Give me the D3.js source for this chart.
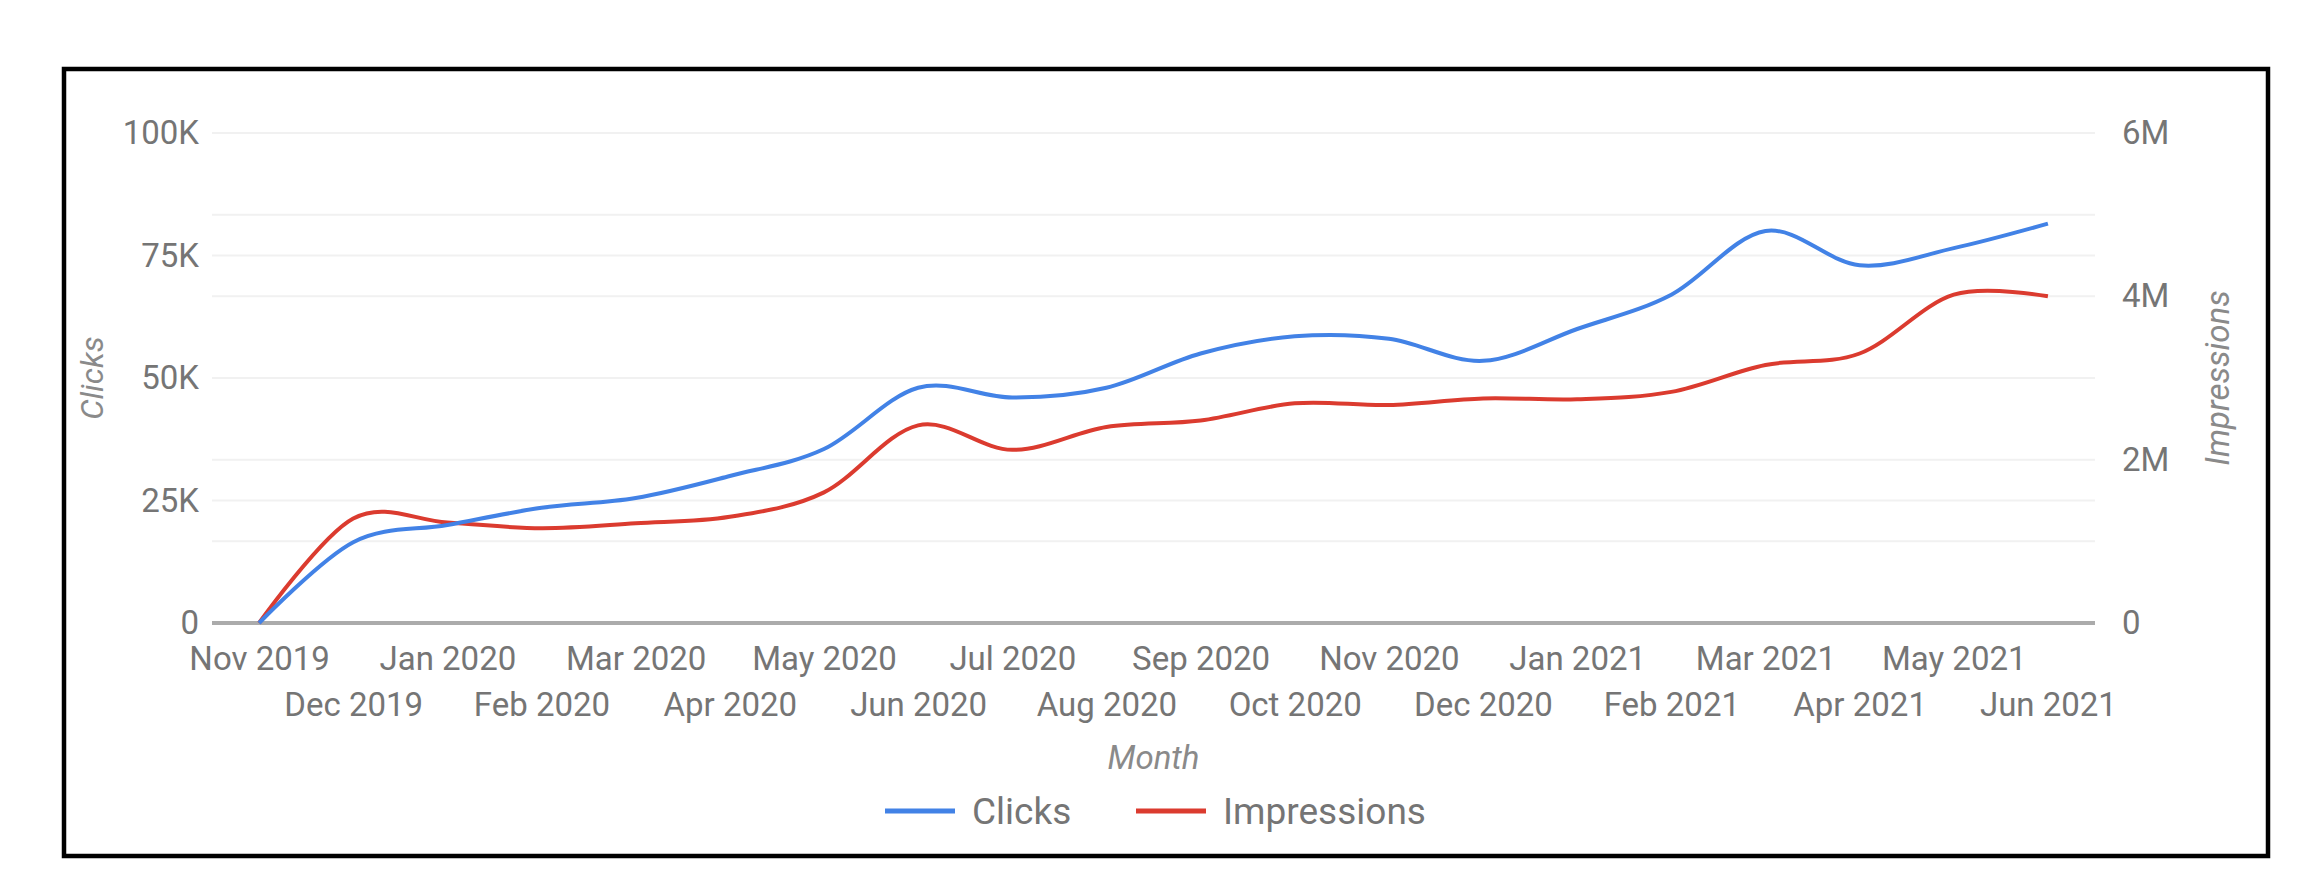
<!DOCTYPE html>
<html>
<head>
<meta charset="utf-8">
<script src="https://cdn.jsdelivr.net/npm/d3@7"></script>
<style>
  html, body { margin: 0; padding: 0; background: #ffffff; }
  svg { display: block; }
  text { font-family: Roboto, "Noto Sans", sans-serif; }
</style>
</head>
<body>
<svg id="chart" width="2320" height="892"></svg>
<script>
// ---- Data ----
const months = ["Nov 2019", "Dec 2019", "Jan 2020", "Feb 2020", "Mar 2020", "Apr 2020", "May 2020",
  "Jun 2020", "Jul 2020", "Aug 2020", "Sep 2020", "Oct 2020", "Nov 2020", "Dec 2020",
  "Jan 2021", "Feb 2021", "Mar 2021", "Apr 2021", "May 2021", "Jun 2021"];
const clicks = [0, 16500, 20000, 23500, 25500, 30000, 35500, 48000, 46000, 48000,
  55000, 58500, 58000, 53500, 60000, 67000, 80000, 73000, 76500, 81500];
const impressions = [0, 1280000, 1230000, 1160000, 1220000, 1300000, 1600000, 2420000, 2120000, 2400000,
  2480000, 2690000, 2670000, 2750000, 2740000, 2830000, 3160000, 3300000, 4020000, 4000000];
const leftTicks = [0, 25000, 50000, 75000, 100000];
const leftTickLabels = ["0", "25K", "50K", "75K", "100K"];
const rightTicks = [0, 2000000, 4000000, 6000000];
const rightTickLabels = ["0", "2M", "4M", "6M"];
const rightGridTicks = [1000000, 2000000, 3000000, 4000000, 5000000, 6000000];
const seriesNames = ["Clicks", "Impressions"];
const seriesColors = ["#4282e6", "#db3b2f"];
const xTitle = "Month";

// ---- Layout ----
const svg = d3.select("#chart");
const plot = { left: 212, right: 2095, top: 133, bottom: 623 };

const x = d3.scalePoint().domain(months).range([plot.left, plot.right]).padding(0.5);
const yL = d3.scaleLinear().domain([0, 100000]).range([plot.bottom, plot.top]);
const yR = d3.scaleLinear().domain([0, 6000000]).range([plot.bottom, plot.top]);

// frame
svg.append("rect")
  .attr("x", 64).attr("y", 69).attr("width", 2204).attr("height", 787)
  .attr("fill", "none").attr("stroke", "#000").attr("stroke-width", 4.5);

// gridlines
const grid = svg.append("g");
grid.selectAll("line.gl").data(leftTicks.slice(1)).join("line")
  .attr("x1", plot.left).attr("x2", plot.right)
  .attr("y1", d => yL(d)).attr("y2", d => yL(d))
  .attr("stroke", "#f1f1f1").attr("stroke-width", 2);
grid.selectAll("line.gr").data(rightGridTicks).join("line")
  .attr("x1", plot.left).attr("x2", plot.right)
  .attr("y1", d => yR(d)).attr("y2", d => yR(d))
  .attr("stroke", "#f1f1f1").attr("stroke-width", 2);

// left axis labels
const gL = svg.append("g").attr("transform", `translate(${plot.left},0)`)
  .call(d3.axisLeft(yL).tickValues(leftTicks).tickFormat((d, i) => leftTickLabels[i]).tickSize(0).tickPadding(13));
gL.select(".domain").remove();
gL.selectAll("text").attr("font-size", 33).attr("fill", "#757575").attr("font-family", "Roboto");

// right axis labels
const gR = svg.append("g").attr("transform", `translate(${plot.right},0)`)
  .call(d3.axisRight(yR).tickValues(rightTicks).tickFormat((d, i) => rightTickLabels[i]).tickSize(0).tickPadding(27));
gR.select(".domain").remove();
gR.selectAll("text").attr("font-size", 33).attr("fill", "#757575").attr("font-family", "Roboto");

// bottom axis labels (alternating rows)
const gB = svg.append("g").attr("transform", `translate(0,${plot.bottom})`)
  .call(d3.axisBottom(x).tickSize(0).tickPadding(0));
gB.select(".domain").remove();
gB.selectAll("text")
  .attr("font-size", 33).attr("fill", "#757575").attr("font-family", "Roboto")
  .attr("dy", null)
  .attr("y", (d, i) => i % 2 === 0 ? 47 : 93);

// zero baseline
svg.append("line")
  .attr("x1", plot.left).attr("x2", plot.right)
  .attr("y1", yL(0)).attr("y2", yL(0))
  .attr("stroke", "#ababab").attr("stroke-width", 4);

// lines
const lineL = d3.line().x((d, i) => x(months[i])).y(d => yL(d)).curve(d3.curveCardinal);
const lineR = d3.line().x((d, i) => x(months[i])).y(d => yR(d)).curve(d3.curveCardinal);
svg.append("path").datum(impressions).attr("d", lineR)
  .attr("fill", "none").attr("stroke", seriesColors[1]).attr("stroke-width", 4);
svg.append("path").datum(clicks).attr("d", lineL)
  .attr("fill", "none").attr("stroke", seriesColors[0]).attr("stroke-width", 4);

// axis titles
svg.append("text").text(seriesNames[0])
  .attr("transform", `translate(92,${(plot.top + plot.bottom) / 2}) rotate(-90)`)
  .attr("text-anchor", "middle").attr("dominant-baseline", "central")
  .attr("font-size", 32).attr("font-style", "italic").attr("fill", "#8a8a8a");
svg.append("text").text(seriesNames[1])
  .attr("transform", `translate(2217,${(plot.top + plot.bottom) / 2}) rotate(-90)`)
  .attr("text-anchor", "middle").attr("dominant-baseline", "central")
  .attr("font-size", 33).attr("font-style", "italic").attr("fill", "#8a8a8a");
svg.append("text").text(xTitle)
  .attr("x", (plot.left + plot.right) / 2).attr("y", 757)
  .attr("text-anchor", "middle").attr("dominant-baseline", "central")
  .attr("font-size", 33).attr("font-style", "italic").attr("fill", "#8a8a8a");

// legend
const legend = svg.append("g");
const legendItems = [
  { name: seriesNames[0], color: seriesColors[0], x: 885 },
  { name: seriesNames[1], color: seriesColors[1], x: 1136 }
];
legendItems.forEach(it => {
  legend.append("line").attr("x1", it.x).attr("x2", it.x + 70).attr("y1", 811).attr("y2", 811)
    .attr("stroke", it.color).attr("stroke-width", 5);
  legend.append("text").text(it.name).attr("x", it.x + 87).attr("y", 811)
    .attr("dominant-baseline", "central").attr("font-size", 37).attr("fill", "#757575");
});
</script>
</body>
</html>
